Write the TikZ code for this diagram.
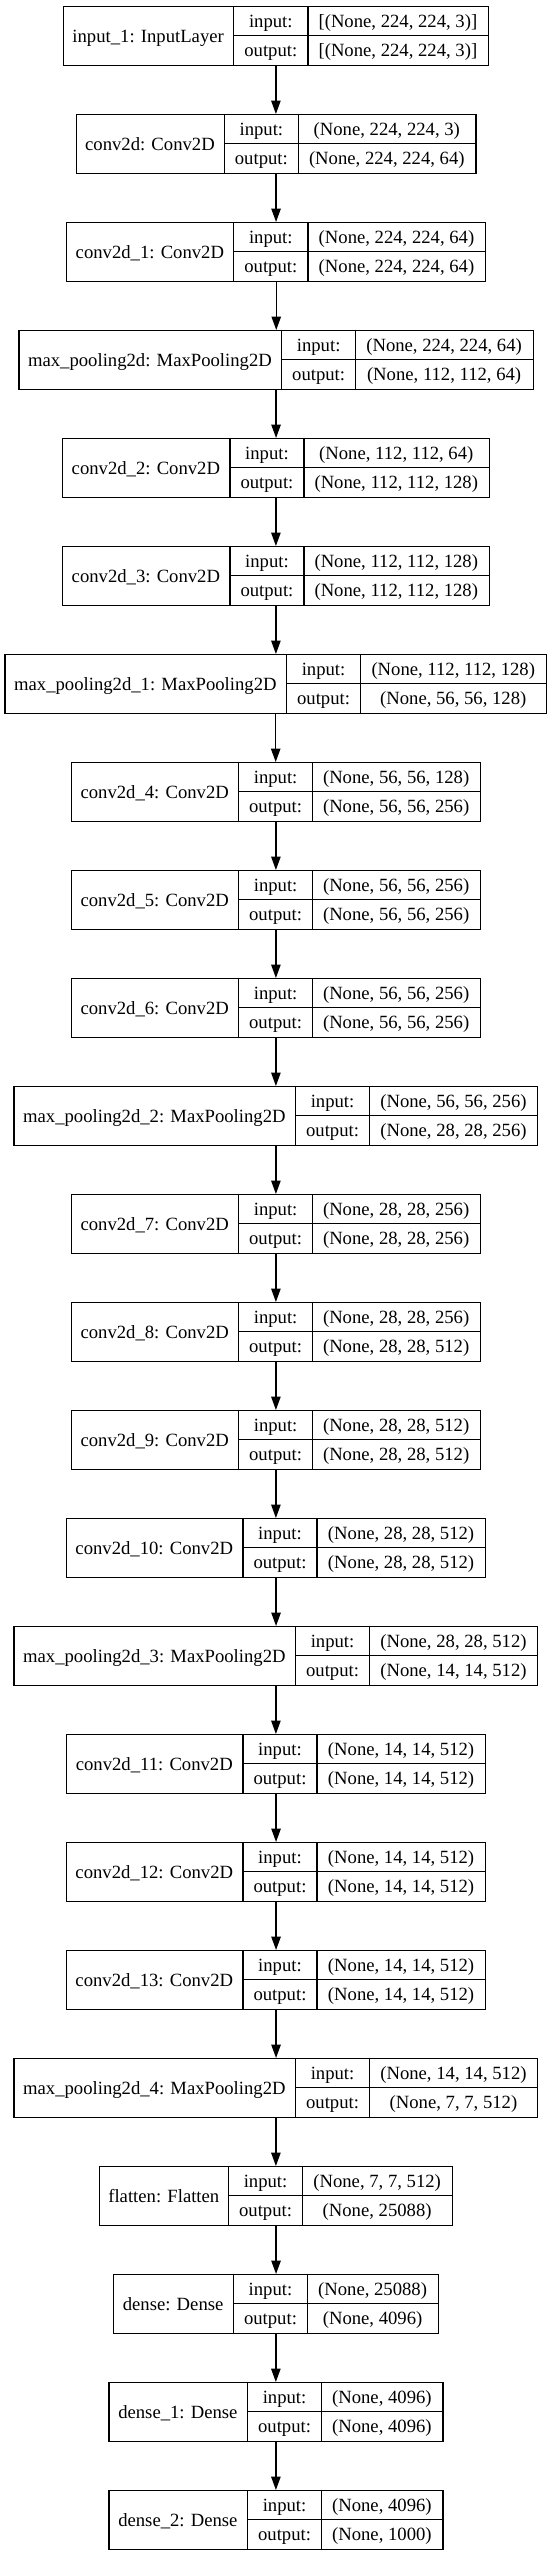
\documentclass[tikz,border=0pt]{standalone}
\usepackage{fontspec}
\setmainfont{Liberation Serif}
\usetikzlibrary{arrows.meta}
\tikzset{
  layerbox/.style={draw, rectangle, line width=1.3pt, inner sep=0pt, minimum height=58.7pt},
  cellline/.style={line width=1.3pt},
  txt/.style={anchor=base, inner sep=0pt},
  arr/.style={line width=1.4pt, -{Triangle[length=13.3pt,width=9.3pt]}}
}
\newcommand{\kerasbox}[8]{%
  \pgfmathsetmacro{\kt}{6+(#1-1)*108}%
  \pgfmathsetmacro{\kb}{\kt+58.7}%
  \pgfmathsetmacro{\km}{\kt+29.35}%
  \pgfmathsetmacro{\kw}{#5-#2}%
  \node[layerbox, minimum width=\kw pt, anchor=north west] (b#1) at (#2,\kt) {};
  \draw[cellline] (#3,\kt) -- (#3,\kb) (#4,\kt) -- (#4,\kb) (#3,\km) -- (#5,\km);
  \pgfmathsetmacro{\kxa}{(#2+#3)/2}%
  \pgfmathsetmacro{\kxb}{(#3+#4)/2}%
  \pgfmathsetmacro{\kxc}{(#4+#5)/2}%
  \node[txt] (l#1) at (\kxa,\km+6.7) {#6};
  \node[txt] (i#1) at (\kxb,\kt+14.675+6.9) {input:};
  \node[txt] (o#1) at (\kxb,\km+14.675+6.9) {output:};
  \node[txt] (vi#1) at (\kxc,\kt+14.675+6.9) {#7};
  \node[txt] (vo#1) at (\kxc,\km+14.675+6.9) {#8};
}
\begin{document}
\begin{tikzpicture}[x=1pt, y=-1pt, font=\fontsize{18.67pt}{22pt}\selectfont]
\fill[white] (0,0) rectangle (552,2555);
\useasboundingbox (0,0) rectangle (552,2555);
\kerasbox{1}{62.6}{233.7}{307.9}{487.9}{input\_1: InputLayer}{[(None, 224, 224, 3)]}{[(None, 224, 224, 3)]}
\kerasbox{2}{75.6}{224.3}{298.4}{475.2}{conv2d: Conv2D}{(None, 224, 224, 3)}{(None, 224, 224, 64)}
\kerasbox{3}{66.1}{233.7}{307.9}{485.1}{conv2d\_1: Conv2D}{(None, 224, 224, 64)}{(None, 224, 224, 64)}
\kerasbox{4}{18.3}{281.6}{355.7}{532.5}{max\_pooling2d: MaxPooling2D}{(None, 224, 224, 64)}{(None, 112, 112, 64)}
\kerasbox{5}{61.9}{229.9}{304.0}{488.6}{conv2d\_2: Conv2D}{(None, 112, 112, 64)}{(None, 112, 112, 128)}
\kerasbox{6}{61.9}{229.9}{304.0}{488.6}{conv2d\_3: Conv2D}{(None, 112, 112, 128)}{(None, 112, 112, 128)}
\kerasbox{7}{4.2}{286.5}{360.6}{545.9}{max\_pooling2d\_1: MaxPooling2D}{(None, 112, 112, 128)}{(None, 56, 56, 128)}
\kerasbox{8}{70.7}{238.7}{312.5}{479.8}{conv2d\_4: Conv2D}{(None, 56, 56, 128)}{(None, 56, 56, 256)}
\kerasbox{9}{70.7}{238.7}{312.5}{479.8}{conv2d\_5: Conv2D}{(None, 56, 56, 256)}{(None, 56, 56, 256)}
\kerasbox{10}{70.7}{238.7}{312.5}{479.8}{conv2d\_6: Conv2D}{(None, 56, 56, 256)}{(None, 56, 56, 256)}
\kerasbox{11}{13.4}{295.3}{369.8}{537.1}{max\_pooling2d\_2: MaxPooling2D}{(None, 56, 56, 256)}{(None, 28, 28, 256)}
\kerasbox{12}{70.7}{238.7}{312.5}{479.8}{conv2d\_7: Conv2D}{(None, 28, 28, 256)}{(None, 28, 28, 256)}
\kerasbox{13}{70.7}{238.7}{312.5}{479.8}{conv2d\_8: Conv2D}{(None, 28, 28, 256)}{(None, 28, 28, 512)}
\kerasbox{14}{70.7}{238.7}{312.5}{479.8}{conv2d\_9: Conv2D}{(None, 28, 28, 512)}{(None, 28, 28, 512)}
\kerasbox{15}{65.7}{242.9}{317.1}{485.1}{conv2d\_10: Conv2D}{(None, 28, 28, 512)}{(None, 28, 28, 512)}
\kerasbox{16}{13.4}{295.3}{369.8}{537.1}{max\_pooling2d\_3: MaxPooling2D}{(None, 28, 28, 512)}{(None, 14, 14, 512)}
\kerasbox{17}{65.7}{242.9}{317.1}{485.1}{conv2d\_11: Conv2D}{(None, 14, 14, 512)}{(None, 14, 14, 512)}
\kerasbox{18}{65.7}{242.9}{317.1}{485.1}{conv2d\_12: Conv2D}{(None, 14, 14, 512)}{(None, 14, 14, 512)}
\kerasbox{19}{65.7}{242.9}{317.1}{485.1}{conv2d\_13: Conv2D}{(None, 14, 14, 512)}{(None, 14, 14, 512)}
\kerasbox{20}{13.4}{295.3}{369.8}{537.1}{max\_pooling2d\_4: MaxPooling2D}{(None, 14, 14, 512)}{(None, 7, 7, 512)}
\kerasbox{21}{99.1}{228.5}{302.6}{451.7}{flatten: Flatten}{(None, 7, 7, 512)}{(None, 25088)}
\kerasbox{22}{112.8}{233.4}{307.6}{437.6}{dense: Dense}{(None, 25088)}{(None, 4096)}
\kerasbox{23}{108.3}{247.5}{321.6}{442.2}{dense\_1: Dense}{(None, 4096)}{(None, 4096)}
\kerasbox{24}{108.3}{247.5}{321.6}{442.2}{dense\_2: Dense}{(None, 4096)}{(None, 1000)}
\foreach \i [evaluate=\i as \j using int(\i+1)] in {1,...,23}{
  \draw[arr] (b\i.south) -- (b\i.south |- b\j.north);
}
\end{tikzpicture}
\end{document}
